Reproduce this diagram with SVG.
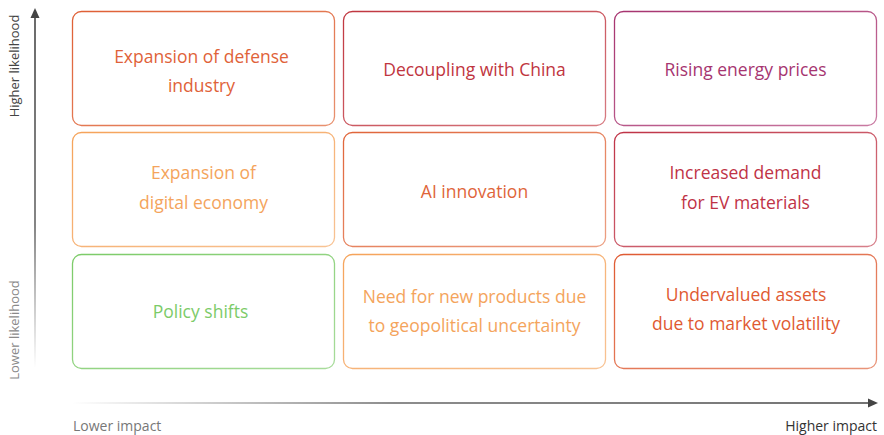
<svg xmlns="http://www.w3.org/2000/svg" width="884" height="435" viewBox="0 0 884 435">
<style>
.box{fill:#ffffff;stroke-width:1.3}
.t{font-family:"Open Sans","Liberation Sans",sans-serif;font-size:17.5px;text-anchor:middle;dominant-baseline:central}
.ax{font-family:"Open Sans","Liberation Sans",sans-serif;font-size:13px}
.axh{font-family:"Open Sans","Liberation Sans",sans-serif;font-size:14px}
</style>
<defs>
<linearGradient id="gDef" x1="0" y1="0" x2="1" y2="1"><stop offset="0" stop-color="#df5f35"/><stop offset="1" stop-color="#e8916f"/></linearGradient>
<linearGradient id="gDec" x1="0" y1="0" x2="1" y2="1"><stop offset="0" stop-color="#c0363f"/><stop offset="1" stop-color="#d77b82"/></linearGradient>
<linearGradient id="gRis" x1="0" y1="0" x2="1" y2="1"><stop offset="0" stop-color="#a6336f"/><stop offset="1" stop-color="#c97aa2"/></linearGradient>
<linearGradient id="gOr" x1="0" y1="0" x2="1" y2="1"><stop offset="0" stop-color="#f5a35a"/><stop offset="1" stop-color="#f8c394"/></linearGradient>
<linearGradient id="gAI" x1="0" y1="0" x2="1" y2="1"><stop offset="0" stop-color="#e0653a"/><stop offset="1" stop-color="#eca083"/></linearGradient>
<linearGradient id="gEV" x1="0" y1="0" x2="1" y2="1"><stop offset="0" stop-color="#bf3346"/><stop offset="1" stop-color="#d7808b"/></linearGradient>
<linearGradient id="gPol" x1="0" y1="0" x2="1" y2="1"><stop offset="0" stop-color="#7ccb68"/><stop offset="1" stop-color="#a8dc9b"/></linearGradient>
<linearGradient id="gUnd" x1="0" y1="0" x2="1" y2="1"><stop offset="0" stop-color="#df5a32"/><stop offset="1" stop-color="#e9957a"/></linearGradient>
<linearGradient id="gV" gradientUnits="userSpaceOnUse" x1="0" y1="10" x2="0" y2="368"><stop offset="0" stop-color="#444"/><stop offset="0.6" stop-color="#666"/><stop offset="1" stop-color="#666" stop-opacity="0"/></linearGradient>
<linearGradient id="gH" gradientUnits="userSpaceOnUse" x1="72" y1="0" x2="876" y2="0"><stop offset="0" stop-color="#666" stop-opacity="0"/><stop offset="0.4" stop-color="#666"/><stop offset="1" stop-color="#444"/></linearGradient>
</defs>
<g id="connectors">
<line x1="35" y1="368" x2="35" y2="16" stroke="url(#gV)" stroke-width="1.6"/>
<path d="M35 8 L39.5 18 L30.5 18 Z" fill="#444"/>
<line x1="72" y1="403" x2="870" y2="403" stroke="url(#gH)" stroke-width="1.6"/>
<path d="M878 403 L868 398.5 L868 407.5 Z" fill="#444"/>
</g>
<g id="axis-labels">
<text class="ax" fill="#444" transform="translate(18.5,66) rotate(-90)" text-anchor="middle">Higher likelihood</text>
<text class="ax" fill="#8a8a8a" transform="translate(18.5,330) rotate(-90)" text-anchor="middle">Lower likelihood</text>
<text class="axh" fill="#777" x="73" y="431">Lower impact</text>
<text class="axh" fill="#333" x="877" y="431" text-anchor="end">Higher impact</text>
</g>
<g id="n-defense"><rect class="box" x="72.5" y="11.5" width="262" height="114" rx="9" stroke="url(#gDef)"/><text class="t" fill="#df6239" x="201.5" y="56">Expansion of defense</text><text class="t" fill="#df6239" x="201.5" y="85">industry</text></g>
<g id="n-decoupling"><rect class="box" x="343.5" y="11.5" width="262" height="114" rx="9" stroke="url(#gDec)"/><text class="t" fill="#bf3540" x="474.5" y="68.5">Decoupling with China</text></g>
<g id="n-energy"><rect class="box" x="614.5" y="11.5" width="262" height="114" rx="9" stroke="url(#gRis)"/><text class="t" fill="#a63570" x="745.5" y="68.5">Rising energy prices</text></g>
<g id="n-digital"><rect class="box" x="72.5" y="132.5" width="262" height="114" rx="9" stroke="url(#gOr)"/><text class="t" fill="#f4a45c" x="203.5" y="172">Expansion of</text><text class="t" fill="#f4a45c" x="203.5" y="202">digital economy</text></g>
<g id="n-ai"><rect class="box" x="343.5" y="132.5" width="262" height="114" rx="9" stroke="url(#gAI)"/><text class="t" fill="#e0653a" x="474.5" y="191">AI innovation</text></g>
<g id="n-ev"><rect class="box" x="614.5" y="132.5" width="262" height="114" rx="9" stroke="url(#gEV)"/><text class="t" fill="#bf3346" x="745.5" y="172">Increased demand</text><text class="t" fill="#bf3346" x="745.5" y="202">for EV materials</text></g>
<g id="n-policy"><rect class="box" x="72.5" y="254.5" width="262" height="114" rx="9" stroke="url(#gPol)"/><text class="t" fill="#7ccb68" x="200.5" y="311">Policy shifts</text></g>
<g id="n-products"><rect class="box" x="343.5" y="254.5" width="262" height="114" rx="9" stroke="url(#gOr)"/><text class="t" fill="#f4a45c" x="474.5" y="296">Need for new products due</text><text class="t" fill="#f4a45c" x="474.5" y="325">to geopolitical uncertainty</text></g>
<g id="n-undervalued"><rect class="box" x="614.5" y="254.5" width="262" height="114" rx="9" stroke="url(#gUnd)"/><text class="t" fill="#df5a32" x="746" y="294">Undervalued assets</text><text class="t" fill="#df5a32" x="746" y="323">due to market volatility</text></g>
</svg>
